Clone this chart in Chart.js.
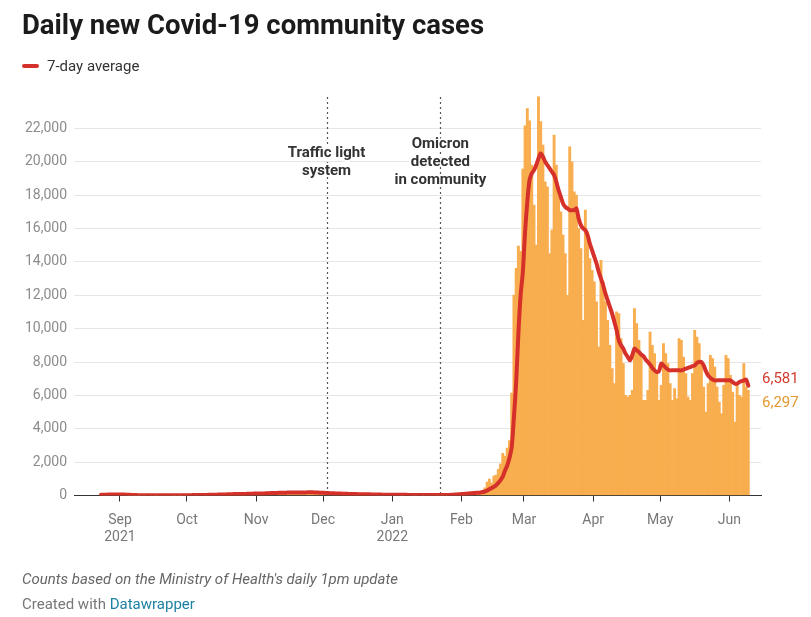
<!DOCTYPE html>
<html>
<head>
<meta charset="utf-8">
<script src="https://cdn.jsdelivr.net/npm/chart.js@4"></script>
<style>
  body { margin: 0; background: #fff; font-family: Roboto, sans-serif; }
  #wrap { position: relative; width: 811px; height: 617px; overflow: hidden; }
  #chart { position: absolute; left: 0; top: 0; }
  .title { position: absolute; left: 22px; top: 8px; font-size: 27.5px; font-weight: 700; color: #1b1b1b; }
  .legend { position: absolute; left: 22px; top: 57px; font-size: 15px; color: #333; }
  .legend .swatch { display: inline-block; width: 17px; height: 4px; border-radius: 2px; background: #d6302a; vertical-align: middle; margin-right: 8px; position: relative; top: -1px; }
  .note { position: absolute; left: 22px; top: 570px; font-size: 15px; font-style: italic; color: #666; }
  .credit { position: absolute; left: 22px; top: 595px; font-size: 15px; color: #777; }
  .credit a { color: #1d81a2; text-decoration: none; }
</style>
</head>
<body>
<div id="wrap">
  <canvas id="chart" width="811" height="617"></canvas>
  <div class="title">Daily new Covid-19 community cases</div>
  <div class="legend"><span class="swatch"></span>7-day average</div>
  <div class="note">Counts based on the Ministry of Health's daily 1pm update</div>
  <div class="credit">Created with <a href="#">Datawrapper</a></div>
</div>
<script>
// day numbers count from 1 Sep 2021 = 0
const monthStarts = [-9, 0, 30, 61, 91, 122, 153, 181, 212, 242, 273]; // Aug 23, then the 1st of each month
const monthTicks = [-0.5, 29.5, 60.5, 90.5, 121.5, 152.5, 180.5, 211.5, 241.5, 272.5];
const monthLabels = [['Sep', '2021'], 'Oct', 'Nov', 'Dec', ['Jan', '2022'], 'Feb', 'Mar', 'Apr', 'May', 'Jun'];
const yTicks = [0, 2000, 4000, 6000, 8000, 10000, 12000, 14000, 16000, 18000, 20000, 22000];

// daily community cases
const casesAug = [35, 41, 62, 68, 70, 83, 83, 53, 49];
const casesSep = [75, 28, 28, 20, 20, 21, 20, 21, 11, 13, 20, 15, 33, 15, 13, 15, 11, 24, 22, 14, 22, 17, 15, 9, 12, 18, 12, 8, 27, 18];
const casesOct = [19, 32, 33, 29, 20, 39, 29, 44, 26, 60, 35, 43, 55, 71, 65, 51, 60, 94, 60, 102, 104, 129, 80, 79, 109, 74, 79, 89, 125, 162, 143];
const casesNov = [162, 100, 126, 100, 163, 206, 190, 191, 125, 147, 185, 201, 175, 206, 173, 222, 194, 167, 169, 173, 172, 186, 215, 201, 178, 184, 137, 149, 135, 135];
const casesDec = [165, 97, 92, 98, 135, 106, 101, 134, 82, 74, 87, 104, 67, 71, 77, 87, 89, 54, 80, 59, 60, 54, 70, 53, 35, 32, 40, 49, 56, 66, 56];
const casesJan = [43, 34, 46, 25, 27, 47, 32, 39, 33, 14, 21, 30, 33, 23, 27, 54, 18, 19, 35, 16, 27, 27, 19, 31, 23, 44, 103, 78, 105, 96, 103];
const casesFeb = [142, 82, 147, 202, 192, 249, 123, 188, 243, 306, 454, 810, 980, 744, 1160, 1222, 1573, 1901, 2522, 2365, 2846, 3297, 6137, 12011, 13606, 14941, 14633, 19566];
const casesMar = [22152, 23183, 22454, 19800, 17400, 15000, 23894, 22400, 21000, 18800, 18500, 14500, 15900, 21600, 19800, 18400, 17000, 15600, 14500, 12000, 20900, 20000, 18200, 18000, 16000, 14800, 10500, 17100, 15800, 14200, 13500];
const casesApr = [12800, 11600, 8900, 14100, 12800, 11600, 10500, 9000, 7600, 6700, 11000, 10900, 9400, 7900, 6000, 5900, 6000, 6300, 11200, 10300, 9300, 8400, 5700, 5700, 6300, 9800, 9000, 8500, 7300, 5700];
const casesMay = [6600, 9100, 8500, 7900, 6700, 5700, 6400, 5800, 9400, 9300, 8300, 7300, 5900, 5700, 7300, 9900, 9500, 9100, 7900, 6500, 5000, 6700, 8400, 8200, 7700, 6500, 5600, 4900, 6600, 8400, 8200];
const casesJun = [7200, 6200, 4400, 6700, 6000, 5900, 7900, 6500, 6297];

// 7-day average
const avgAug = [40, 44, 49, 54, 59, 63, 66, 65, 63];
const avgSep = [60, 55, 50, 44, 38, 32, 27, 23, 21, 19, 18, 18, 19, 18, 17, 17, 16, 16, 17, 17, 17, 17, 16, 16, 16, 15, 15, 16, 17, 18];
const avgOct = [19, 21, 23, 25, 26, 28, 30, 33, 35, 38, 40, 43, 47, 51, 55, 58, 62, 67, 71, 76, 80, 85, 88, 90, 93, 95, 97, 99, 104, 110, 116];
const avgNov = [120, 123, 125, 127, 132, 138, 145, 150, 154, 157, 160, 164, 168, 171, 174, 178, 182, 185, 186, 185, 184, 184, 186, 189, 190, 188, 183, 177, 170, 164];
const avgDec = [158, 150, 143, 137, 131, 125, 120, 115, 110, 105, 100, 96, 92, 88, 85, 82, 80, 77, 75, 72, 70, 67, 64, 61, 58, 55, 52, 50, 50, 51, 52];
const avgJan = [52, 50, 47, 44, 42, 40, 38, 36, 35, 33, 31, 30, 28, 27, 27, 28, 28, 27, 26, 25, 25, 25, 26, 28, 30, 34, 42, 52, 62, 72, 82];
const avgFeb = [92, 100, 110, 122, 135, 150, 160, 170, 185, 205, 240, 300, 380, 450, 520, 620, 760, 920, 1130, 1500, 1800, 2250, 2900, 4700, 6800, 9700, 12000, 13400];
const avgMar = [15800, 17600, 18900, 19300, 19500, 19800, 20200, 20500, 20300, 20000, 19800, 19600, 19400, 19200, 18800, 18300, 17900, 17500, 17300, 17200, 17100, 17100, 17100, 17200, 16600, 16200, 16000, 15900, 15600, 15100, 14700];
const avgApr = [14300, 13900, 13400, 13000, 12600, 12100, 11700, 11300, 10900, 10400, 9900, 9300, 9000, 8800, 8500, 8300, 8100, 8400, 8800, 8700, 8600, 8450, 8350, 8150, 8000, 7850, 7650, 7500, 7400, 7450];
const avgMay = [7900, 7800, 7650, 7550, 7500, 7500, 7500, 7500, 7500, 7500, 7550, 7600, 7650, 7700, 7750, 7800, 7950, 8000, 8000, 7800, 7450, 7200, 7050, 6950, 6900, 6900, 6900, 6900, 6900, 6900, 6900];
const avgJun = [6900, 6800, 6700, 6700, 6800, 6850, 6900, 6950, 6581];

const casesByMonth = [casesAug, casesSep, casesOct, casesNov, casesDec, casesJan, casesFeb, casesMar, casesApr, casesMay, casesJun];
const avgByMonth = [avgAug, avgSep, avgOct, avgNov, avgDec, avgJan, avgFeb, avgMar, avgApr, avgMay, avgJun];

// Dec 3 and Jan 23 (start of day)
const events = [
  { day: 92.5, lines: ['Traffic light', 'system'] },
  { day: 143.5, lines: ['Omicron', 'detected', 'in community'] }
];

function toPoints(months) {
  const pts = [];
  months.forEach((arr, m) => {
    arr.forEach((v, i) => pts.push({ x: monthStarts[m] + i, y: v }));
  });
  return pts;
}

const casePoints = toPoints(casesByMonth);
const avgPoints = toPoints(avgByMonth);

const RED = '#d6302a';
const ORANGE = '#f8ad4e';

const extras = {
  id: 'extras',
  beforeDatasetsDraw(chart) {
    const { ctx, chartArea, scales } = chart;
    ctx.save();
    ctx.strokeStyle = '#555';
    ctx.lineWidth = 1.2;
    ctx.setLineDash([2, 3]);
    events.forEach(ev => {
      const x = Math.round(scales.x.getPixelForValue(ev.day)) - 0.5;
      ctx.beginPath();
      ctx.moveTo(x, chartArea.top + 2);
      ctx.lineTo(x, chartArea.bottom);
      ctx.stroke();
    });
    ctx.restore();
  },
  afterDatasetsDraw(chart) {
    const { ctx, chartArea, scales } = chart;
    ctx.save();
    ctx.font = 'bold 15px Roboto';
    ctx.textAlign = 'center';
    ctx.textBaseline = 'middle';
    ctx.lineJoin = 'round';
    const tops = [58, 49];
    events.forEach((ev, k) => {
      const x = scales.x.getPixelForValue(ev.day) - 1;
      ev.lines.forEach((t, i) => {
        const y = chartArea.top + tops[k] + i * 18;
        ctx.strokeStyle = '#fff';
        ctx.lineWidth = 4;
        ctx.strokeText(t, x, y);
        ctx.fillStyle = '#333';
        ctx.fillText(t, x, y);
      });
    });

    // end value labels
    const lastAvg = avgPoints[avgPoints.length - 1].y;
    const lastCase = casePoints[casePoints.length - 1].y;
    ctx.font = '15px Roboto';
    ctx.textAlign = 'left';
    const xl = chartArea.right + 1;
    ctx.fillStyle = '#d13a2f';
    ctx.fillText(lastAvg.toLocaleString('en-US'), xl, scales.y.getPixelForValue(lastAvg) - 6);
    ctx.fillStyle = '#e3982f';
    ctx.fillText(lastCase.toLocaleString('en-US'), xl, scales.y.getPixelForValue(lastCase) + 13);
    ctx.restore();
  }
};

new Chart(document.getElementById('chart'), {
  type: 'bar',
  data: {
    datasets: [
      {
        type: 'line',
        label: '7-day average',
        data: avgPoints,
        borderColor: RED,
        borderWidth: 4,
        pointRadius: 0,
        tension: 0.3,
        borderCapStyle: 'round',
        borderJoinStyle: 'round',
        order: 1
      },
      {
        type: 'bar',
        label: 'Daily cases',
        data: casePoints,
        backgroundColor: ORANGE,
        borderWidth: 0,
        barPercentage: 1,
        categoryPercentage: 1,
        order: 2
      }
    ]
  },
  options: {
    responsive: false,
    animation: false,
    layout: { padding: { top: 95, right: 50, left: 0, bottom: 0 } },
    plugins: { legend: { display: false }, tooltip: { enabled: false } },
    scales: {
      x: {
        type: 'linear',
        min: -21.1,
        max: 286.7,
        offset: false,
        grid: { offset: false, drawOnChartArea: false, drawTicks: true, tickLength: 6, color: '#333' },
        border: { display: true, color: '#333', width: 1 },
        afterBuildTicks: s => { s.ticks = monthTicks.map(v => ({ value: v })); },
        afterFit: s => { s.height = 121.5; },
        ticks: {
          autoSkip: false,
          maxRotation: 0,
          padding: 10,
          color: '#777',
          font: { family: 'Roboto', size: 14, lineHeight: 1.25 },
          callback: (v, i) => monthLabels[i]
        }
      },
      y: {
        min: 0,
        max: 24000,
        afterBuildTicks: s => { s.ticks = yTicks.map(v => ({ value: v })); },
        afterFit: s => { s.width = 74; },
        grid: { color: '#e6e6e6', drawTicks: false },
        border: { display: false },
        ticks: {
          padding: 7,
          color: '#8c8c8c',
          font: { family: 'Roboto', size: 14 },
          callback: v => v.toLocaleString('en-US')
        }
      }
    }
  },
  plugins: [extras]
});
</script>
</body>
</html>
